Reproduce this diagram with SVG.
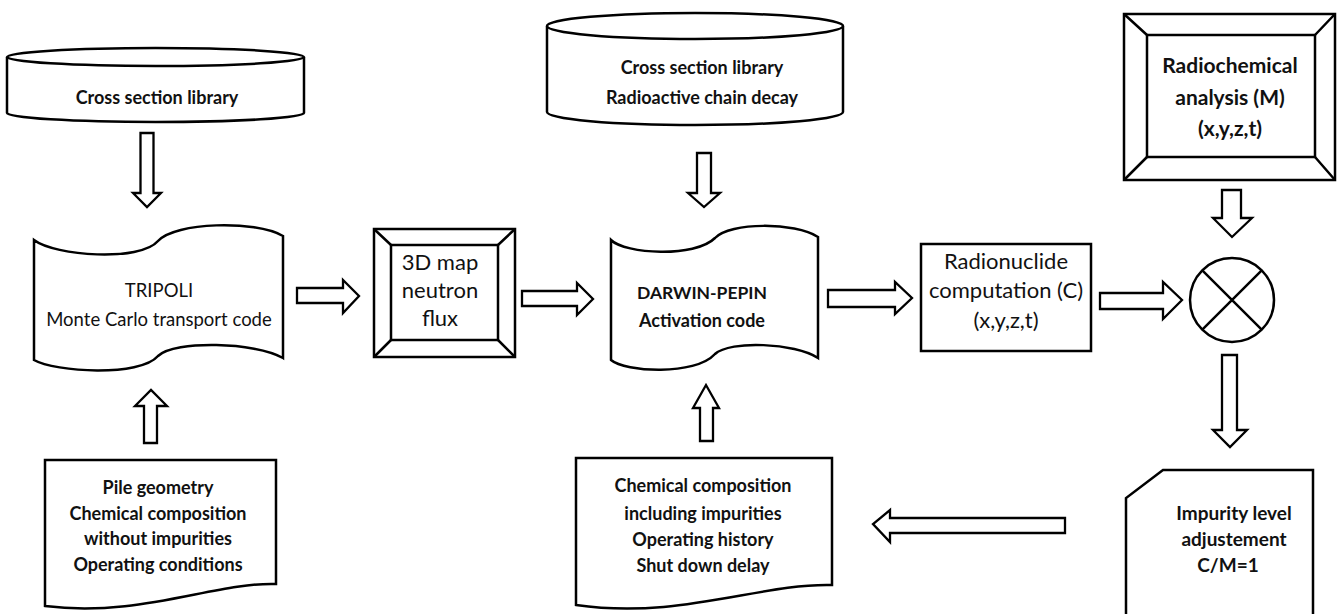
<svg xmlns="http://www.w3.org/2000/svg" width="1338" height="614" viewBox="0 0 1338 614">
<style>
.s{fill:#fff;stroke:#000;stroke-width:2.5;stroke-linejoin:miter}
.l{fill:none;stroke:#000;stroke-width:2.5}
.a{fill:#fff;stroke:#000;stroke-width:2.3;stroke-linejoin:miter}
.t{font-family:Lato,"Liberation Sans",sans-serif;font-size:18px;text-anchor:middle;fill:#111}
.b{font-weight:bold}
.m{font-size:18.5px}
.g{font-size:22px}
</style>
<rect width="1338" height="614" fill="#fff"/>
<g id="connectors">
<path class="a" d="M140.5,133 L153.5,133 L153.5,193 L161,193 L147,207 L133,193 L140.5,193 Z"/>
<path class="a" d="M144,443 L157,443 L157,406 L167,406 L151,390 L135,406 L144,406 Z"/>
<path class="a" d="M297,288 L343,288 L343,280 L359,296 L343,313 L343,303 L297,303 Z"/>
<path class="a" d="M522,291 L577,291 L577,283 L593,299 L577,315 L577,306 L522,306 Z"/>
<path class="a" d="M697,153 L711,153 L711,193 L720,193 L704,207 L688,193 L697,193 Z"/>
<path class="a" d="M700,441 L713,441 L713,408 L719,408 L706,385 L693,408 L700,408 Z"/>
<path class="a" d="M828,290 L895,290 L895,282 L912,298 L895,314 L895,307 L828,307 Z"/>
<path class="a" d="M1100,293 L1163,293 L1163,282 L1182,300 L1163,319 L1163,309 L1100,309 Z"/>
<path class="a" d="M1222,190 L1241,190 L1241,218 L1252,218 L1232,237 L1213,218 L1222,218 Z"/>
<path class="a" d="M1222,355 L1237,355 L1237,430 L1247,430 L1230,447 L1213,430 L1222,430 Z"/>
<path class="a" d="M1065,518 L1065,533 L890,533 L890,542 L873,524 L890,510 L890,518 Z"/>
</g>
<g id="xs-library-1">
<path class="s" d="M7,57 L7,113 A148.5,9 0 0 0 304,113 L304,57"/>
<ellipse class="s" cx="155.5" cy="57" rx="148.5" ry="9"/>
<text class="t b" x="157" y="103.5">Cross section library</text>
</g>
<g id="tripoli">
<path class="s" d="M34,240 C55,256 140,262 158,241 C175,222 255,220 283,236 L283,358 C255,342 175,340 158,356 C140,377 55,372 34,360 Z"/>
<text class="t m" x="159" y="296.5">TRIPOLI</text>
<text class="t m" x="159" y="325.5">Monte Carlo transport code</text>
</g>
<g id="pile-input">
<path class="s" d="M45,460 L276,460 L276,584 C215,582 140,618 45,606 Z"/>
<text class="t b" x="158" y="493.5">Pile geometry</text>
<text class="t b" x="158" y="519.5">Chemical composition</text>
<text class="t b" x="158" y="544.5">without impurities</text>
<text class="t b" x="158" y="570.5">Operating conditions</text>
</g>
<g id="flux-map">
<rect class="s" x="374" y="229" width="141" height="128"/>
<rect class="s" x="391" y="245" width="107" height="95"/>
<path class="l" d="M374,229 L391,245 M515,229 L498,245 M374,357 L391,340 M515,357 L498,340"/>
<text class="t g" x="440" y="270">3D map</text>
<text class="t g" x="440" y="298">neutron</text>
<text class="t g" x="440" y="326">flux</text>
</g>
<g id="xs-library-2">
<path class="s" d="M547,26 L547,112 A148,13 0 0 0 843,112 L843,26"/>
<ellipse class="s" cx="695" cy="26" rx="148" ry="13"/>
<text class="t b" x="702" y="73.5">Cross section library</text>
<text class="t b" x="702" y="103.5">Radioactive chain decay</text>
</g>
<g id="darwin">
<path class="s" d="M611,240 C625,254 695,258 715,238 C730,222 795,222 818,237 L818,358 C795,343 730,340 715,354 C695,376 625,372 611,360 Z"/>
<text class="t b" x="702" y="298.5" style="font-size:17.5px">DARWIN-PEPIN</text>
<text class="t b" x="702" y="326.5">Activation code</text>
</g>
<g id="chem-input">
<path class="s" d="M576,458 L832,458 L832,585 C760,583 680,620 576,605 Z"/>
<text class="t b" x="703" y="491.5">Chemical composition</text>
<text class="t b" x="703" y="519.5">including impurities</text>
<text class="t b" x="703" y="545.5">Operating history</text>
<text class="t b" x="703" y="571.5">Shut down delay</text>
</g>
<g id="radionuclide">
<rect class="s" x="921" y="244" width="170" height="107"/>
<text class="t g" x="1006" y="269">Radionuclide</text>
<text class="t g" x="1006" y="298">computation (C)</text>
<text class="t g" x="1006" y="328">(x,y,z,t)</text>
</g>
<g id="radiochemical">
<rect class="s" x="1124" y="14" width="211" height="166"/>
<rect class="s" x="1147" y="35" width="168" height="122"/>
<path class="l" d="M1124,14 L1147,35 M1335,14 L1315,35 M1124,180 L1147,157 M1335,180 L1315,157"/>
<text class="t b" x="1230" y="72.5" style="font-size:21px">Radiochemical</text>
<text class="t b" x="1230" y="104.5" style="font-size:21px">analysis (M)</text>
<text class="t b" x="1230" y="135.5" style="font-size:21px">(x,y,z,t)</text>
</g>
<g id="comparator">
<circle class="s" cx="1232" cy="300" r="42"/>
<path class="l" d="M1202.3,270.3 L1261.7,329.7 M1261.7,270.3 L1202.3,329.7"/>
</g>
<g id="adjustment">
<path class="s" d="M1126,620 L1126,498 L1163,470 L1313,470 L1313,620"/>
<text class="t b" x="1234" y="520" style="font-size:19px">Impurity level</text>
<text class="t b" x="1234" y="546" style="font-size:19px">adjustement</text>
<text class="t b" x="1228" y="572" style="font-size:19px">C/M=1</text>
</g>
</svg>
